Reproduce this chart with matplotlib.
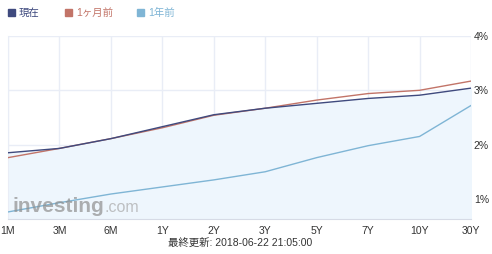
import matplotlib
matplotlib.use("Agg")
import matplotlib.pyplot as plt
from matplotlib.patches import Rectangle

plt.rcParams['font.family'] = ['Liberation Sans', 'Noto Sans CJK JP', 'DejaVu Sans']

### Data
tenors = ["1M", "3M", "6M", "1Y", "2Y", "3Y", "5Y", "7Y", "10Y", "30Y"]
now = [1.85, 1.93, 2.11, 2.33, 2.55, 2.67, 2.76, 2.85, 2.91, 3.04]
month_ago = [1.76, 1.93, 2.11, 2.31, 2.54, 2.67, 2.82, 2.94, 3.00, 3.17]
year_ago = [0.76, 0.93, 1.09, 1.22, 1.35, 1.50, 1.76, 1.98, 2.15, 2.72]
series_names = ["現在", "1ヶ月前", "1年前"]
y_ticks = [1, 2, 3, 4]
updated = "最終更新: 2018-06-22 21:05:00"

c_now = "#3f4a7e"
c_month = "#c27468"
c_year = "#7fb5d5"
grid_c = "#e9edf6"

fig = plt.figure(figsize=(4.92, 2.54), dpi=100)
ax = fig.add_axes([8 / 492, 35 / 254, 463 / 492, 183 / 254])

x = list(range(len(tenors)))
ax.fill_between(x, now, 0, color="#eef6fd", zorder=1)
ax.plot(x, year_ago, color=c_year, lw=1.0, zorder=3)
ax.plot(x, month_ago, color=c_month, lw=1.0, zorder=3)
ax.plot(x, now, color=c_now, lw=1.0, zorder=4)

ax.set_xlim(0, len(tenors) - 1)
ax.set_ylim(0.63, 4.0)
ax.set_xticks(x)
ax.set_xticklabels(tenors)
ax.set_yticks(y_ticks)
ax.set_yticklabels([f"{v}%" for v in y_ticks])
ax.yaxis.tick_right()
ax.tick_params(length=0, labelsize=7.5, colors="#333333")
ax.tick_params(axis="x", pad=5)
ax.tick_params(axis="y", pad=2)
ax.grid(True, color=grid_c, lw=1.0, zorder=0)
ax.set_axisbelow(True)
for s in ["top", "right"]:
    ax.spines[s].set_visible(False)
ax.spines["left"].set_color(grid_c)
ax.spines["bottom"].set_color("#d6dbe6")

# watermark
fig.text(12 / 492, (254 - 212) / 254, "investing", fontsize=15, fontweight="bold",
         color="#8f8f8f", alpha=0.7, family="Liberation Sans", zorder=2)
fig.text(105 / 492, (254 - 212) / 254, ".com", fontsize=11.5, color="#a8a8a8",
         alpha=0.7, family="Liberation Sans", zorder=2)

# legend
colors = [c_now, c_month, c_year]
lx = [8, 65, 137]
for name, col, px in zip(series_names, colors, lx):
    fig.patches.append(Rectangle((px / 492, (254 - 16) / 254), 7 / 492, 7 / 254,
                                 transform=fig.transFigure, color=col))
    fig.text((px + 11) / 492, (254 - 12.5) / 254, name, fontsize=7.5,
             color=col, va="center", ha="left")

fig.text(240 / 492, (254 - 243) / 254, updated, fontsize=7.5, color="#333333",
         ha="center", va="center")

fig.savefig("out.png", dpi=100)
